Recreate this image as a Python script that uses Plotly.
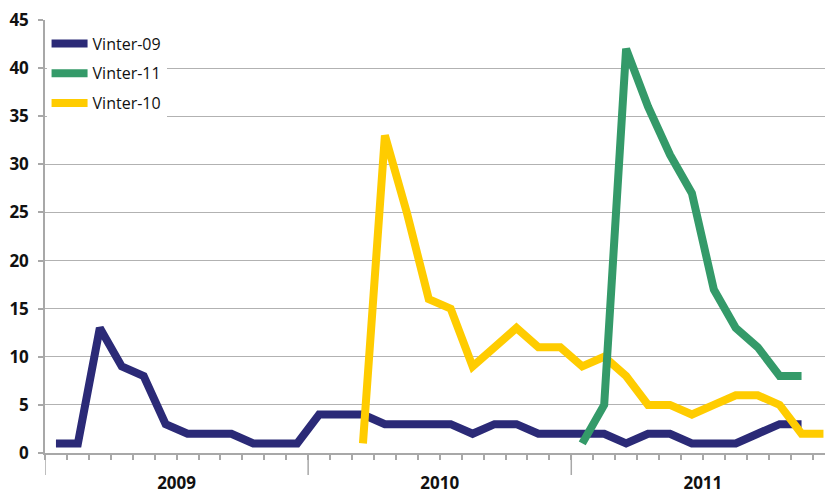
import plotly.graph_objects as go

years = ["2009", "2010", "2011"]
months_per_year = 12
months = [f"{y}-{m:02d}" for y in years for m in range(1, 13)]

vinter_09 = [1, 1, 13, 9, 8, 3, 2, 2, 2, 1, 1, 1,
             4, 4, 4, 3, 3, 3, 3, 2, 3, 3, 2, 2,
             2, 2, 1, 2, 2, 1, 1, 1, 2, 3, 3, None]
vinter_10 = [None] * 14 + [1, 33, 25, 16, 15, 9, 11, 13, 11, 11,
                           9, 10, 8, 5, 5, 4, 5, 6, 6, 5, 2, 2]
vinter_11 = [None] * 24 + [1, 5, 42, 36, 31, 27, 17, 13, 11, 8, 8, None]

x = list(range(len(months)))

series = [
    ("Vinter-09", vinter_09, "#2B2A77", 1),
    ("Vinter-10", vinter_10, "#FFCC00", 3),
    ("Vinter-11", vinter_11, "#349A69", 2),
]

fig = go.Figure()
for name, vals, color, rank in series:
    fig.add_trace(go.Scatter(
        x=x, y=vals, name=name, mode="lines",
        line=dict(color=color, width=8),
        legendrank=rank, legendgroup=name,
    ))

grid = "#B2B2B2"
axis_col = "#A8A8A8"
font_family = "Open Sans, DejaVu Sans, sans-serif"

year_centers = [i * months_per_year + (months_per_year - 1) / 2 for i in range(len(years))]
year_bounds = [i * months_per_year - 0.5 for i in range(len(years))]

for b in year_bounds:
    fig.add_shape(type="line", xref="x", yref="paper", x0=b, x1=b, y0=0, y1=-22 / 433,
                  line=dict(color=axis_col, width=1.5), layer="below")

fig.update_layout(
    width=825, height=494,
    margin=dict(l=45, r=0, t=20, b=41, autoexpand=False),
    paper_bgcolor="white", plot_bgcolor="white",
    font=dict(family=font_family, color="#111111"),
    showlegend=True,
    legend=dict(
        x=0.002, y=0.985, xanchor="left", yanchor="top",
        bgcolor="white", borderwidth=0,
        font=dict(size=16, color="#111111", family=font_family),
        tracegroupgap=6, itemwidth=36,
    ),
    xaxis=dict(
        range=[-0.5, 35.07],
        tickmode="array", tickvals=year_centers, ticktext=years,
        ticks="outside", ticklen=5, tickcolor=axis_col, tickwidth=1.5,
        tickfont=dict(size=17, family=font_family, weight="bold", color="#111111"),
        ticklabelstandoff=9, automargin=False,
        minor=dict(tickmode="linear", tick0=-0.5, dtick=1, ticks="outside",
                   ticklen=5, tickcolor=axis_col, tickwidth=1.5),
        showline=True, linecolor=axis_col, linewidth=1.5,
        showgrid=False, zeroline=False,
    ),
    yaxis=dict(
        range=[0, 45], dtick=5, tick0=0,
        ticks="outside", ticklen=5, tickcolor=axis_col, tickwidth=1.5,
        tickfont=dict(size=17, family=font_family, weight="bold", color="#111111"),
        ticklabelstandoff=6, automargin=False,
        showline=True, linecolor=axis_col, linewidth=1.5,
        showgrid=True, gridcolor=grid, gridwidth=1.2,
        zeroline=False,
    ),
)

fig.write_html("out.html")
